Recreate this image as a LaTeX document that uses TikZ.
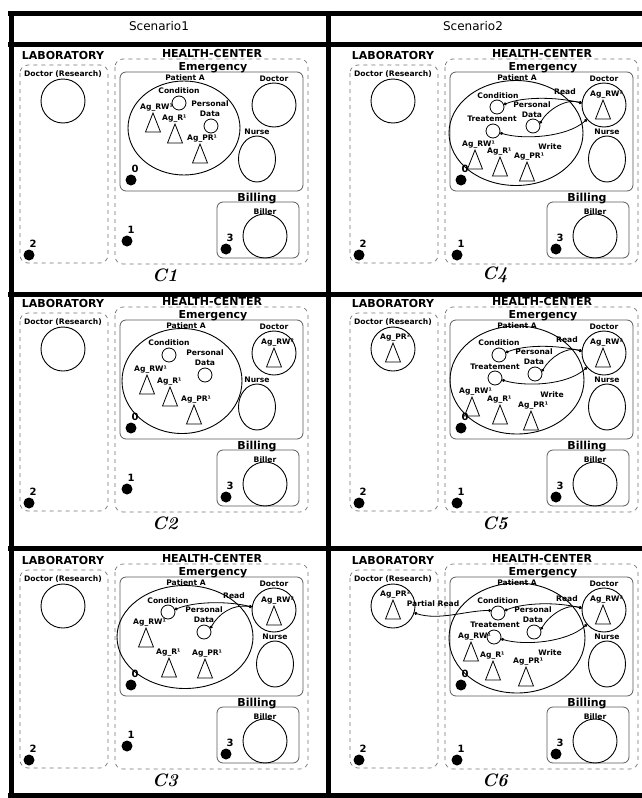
\documentclass[tikz,border=0pt]{standalone}
\usepackage{fontspec}
\usepackage{tikz}
\usetikzlibrary{shapes.geometric,arrows.meta,calc,positioning}
\newfontfamily\dvs{DejaVu Sans}

% one access scene: laboratory + health center
\newcommand{\ward}[4]{%
  \node[area, anchor=base] (#1lab) at (63,59) {LABORATORY};
  \draw[zone] (20,65) rectangle (108,263);
  \node[tag] (#1drt) at (63,74) {Doctor (Research)};
  \node[room] (#1dr) at (63,101) {};
  \node[area, anchor=base] (#1hc) at (212,57.5) {HEALTH-CENTER};
  \draw[zone] (115,59) rectangle (308,264);
  \draw[wardbox] (120,72) rectangle (303,191);
  \node[area, anchor=base] (#1em) at (213,70.5) {Emergency};
  \node[tag] (#1doct) at (274,79) {Doctor};
  \node[room] (#1doc) at (274,105) {};
  \node[tag] (#1nurt) at (#3,132) {Nurse};
  \node[nursebox] (#1nur) at (#3,159) {};
  \draw[wardbox] (217,202) rectangle (299,258);
  \node[area, anchor=base] (#1bil) at (257,201) {Billing};
  \node[tag] (#1bilrt) at (265,212) {Biller};
  \node[room] (#1bilr) at (265,236) {};
  \node[site] (#1p0) at (131,180) {};
  \node[num] (#1n0) at ($(#1p0)+(4,-11)$) {0};
  \node[site] (#1p1) at (127,#4) {};
  \node[num] (#1n1) at ($(#1p1)+(4,-11)$) {1};
  \node[site] (#1p2) at (29,255) {};
  \node[num] (#1n2) at ($(#1p2)+(4,-11)$) {2};
  \node[site] (#1p3) at (226,249) {};
  \node[num] (#1n3) at ($(#1p3)+(4,-11)$) {3};
  \node[figlabel] (#1cap) at (165,275) {#2};
}
% agent triangle with its label
\newcommand{\agent}[3]{%
  \coordinate (#1) at #2;
  \draw[cone] (#1) -- ++(-7.5,19) -- ++(15,0) -- cycle;
  \node[tag, anchor=south west] (#1t) at ($(#1)+(-13,-2)$) {#3};
}

\begin{document}
\begin{tikzpicture}[x=1pt, y=-1pt,
    panelline/.style={line width=5pt},
    head/.style={font=\dvs\fontsize{12}{13}\selectfont, inner sep=0pt},
    area/.style={font=\dvs\bfseries\fontsize{11}{12}\selectfont, inner sep=0pt},
    tag/.style={font=\dvs\bfseries\fontsize{7.6}{10}\selectfont, inner sep=0pt},
    num/.style={font=\dvs\bfseries\fontsize{10}{11}\selectfont, inner sep=0pt},
    figlabel/.style={font=\bfseries\itshape\fontsize{18}{20}\selectfont, inner sep=0pt},
    zone/.style={draw=black!55, dash pattern=on 4pt off 4pt, rounded corners=8pt, line width=0.7pt},
    wardbox/.style={draw=black!65, rounded corners=6pt, line width=0.8pt},
    room/.style={circle, draw, line width=0.9pt, minimum size=44, inner sep=0pt},
    nursebox/.style={ellipse, draw, line width=0.9pt, minimum width=37, minimum height=46, inner sep=0pt},
    patient/.style={ellipse, draw, line width=0.9pt, inner sep=0pt},
    spot/.style={circle, draw, line width=0.8pt, minimum size=14, inner sep=0pt},
    site/.style={circle, fill, minimum size=11, inner sep=0pt},
    cone/.style={line width=0.8pt, line join=miter},
    link/.style={{Circle[length=3pt]}-{Circle[length=3pt]}, line width=0.8pt}
]
    \useasboundingbox (0,0) rectangle (642,798);

    % frame
    \draw[panelline] (8,13) -- (642,13);
    \draw[panelline] (8,44.5) -- (642,44.5);
    \draw[panelline] (8,294) -- (642,294);
    \draw[panelline] (8,548) -- (642,548);
    \draw[panelline] (8,795.5) -- (642,795.5);
    \draw[panelline] (11,10.5) -- (11,798);
    \draw[panelline] (328,10.5) -- (328,798);
    \node[head, anchor=base] (s1) at (159,30.5) {Scenario1};
    \node[head, anchor=base] (s2) at (473,30.5) {Scenario2};

    % C1
    \begin{scope}[shift={(0,0)}]
        \ward{c1}{C1}{257}{241}
        \node[patient, minimum width=112, minimum height=94] (c1pat) at (184,128) {};
        \node[tag, anchor=base] (c1patt) at (185,80.5) {Patient A};
        \node[tag] (c1condt) at (179,91) {Condition};
        \node[spot] (c1cond) at (179,103) {};
        \node[tag, align=center] (c1datat) at (210,109) {Personal\\Data};
        \node[spot] (c1data) at (211,126) {};
        \agent{c1rw}{(153,113)}{Ag\_RW¹}
        \agent{c1r}{(175,124)}{Ag\_R¹}
        \agent{c1pr}{(200,144)}{Ag\_PR¹}
    \end{scope}

    % C2
    \begin{scope}[shift={(0,248)}]
        \ward{c2}{C2}{257}{241}
        \node[patient, minimum width=120, minimum height=105] (c2pat) at (182,133) {};
        \node[tag, anchor=base] (c2patt) at (186,80.5) {Patient A};
        \node[tag] (c2condt) at (169,95) {Condition};
        \node[spot] (c2cond) at (169,107) {};
        \node[tag, align=center] (c2datat) at (205,110) {Personal\\Data};
        \node[spot] (c2data) at (205,127) {};
        \agent{c2rw}{(147,127)}{Ag\_RW¹}
        \agent{c2r}{(170,139)}{Ag\_R¹}
        \agent{c2pr}{(194,157)}{Ag\_PR¹}
        \agent{c2rw2}{(274,100)}{Ag\_RW²}
    \end{scope}

    % C3
    \begin{scope}[shift={(0,505)}]
        \ward{c3}{C3}{275}{241}
        \node[patient, minimum width=136, minimum height=103] (c3pat) at (185,132) {};
        \node[tag, anchor=base] (c3patt) at (186,80.5) {Patient A};
        \node[tag] (c3condt) at (168,96) {Condition};
        \node[spot] (c3cond) at (168,107) {};
        \node[tag, align=center] (c3datat) at (204,110) {Personal\\Data};
        \node[spot] (c3data) at (204,127) {};
        \agent{c3rw}{(146,123)}{Ag\_RW¹}
        \agent{c3r}{(169,153)}{Ag\_R¹}
        \agent{c3pr}{(205,154)}{Ag\_PR¹}
        \agent{c3rw2}{(274,101)}{Ag\_RW²}
        \draw[link] (c3cond.20) .. controls +(20,-8) and +(-25,-6) .. (c3doc.172);
        \draw[link] (c3data.30) .. controls +(8,-14) and +(-20,-3) .. (c3doc.172);
        \node[tag] (c3read) at (234,91) {Read};
    \end{scope}

    % C4
    \begin{scope}[shift={(330,0)}]
        \ward{c4}{C4}{277}{255}
        \node[patient, minimum width=134, minimum height=105] (c4pat) at (186,133) {};
        \node[tag, anchor=base] (c4patt) at (187,80.5) {Patient A};
        \node[tag] (c4condt) at (168,96) {Condition};
        \node[spot] (c4cond) at (167,107) {};
        \node[tag, align=center] (c4datat) at (202,110) {Personal\\Data};
        \node[spot] (c4data) at (203,126) {};
        \node[tag] (c4treatt) at (162,119) {Treatement};
        \node[spot] (c4treat) at (163,131) {};
        \agent{c4rw}{(145,150)}{Ag\_RW¹}
        \agent{c4r}{(170,157)}{Ag\_R¹}
        \agent{c4pr}{(197,162)}{Ag\_PR¹}
        \agent{c4rw2}{(273,100)}{Ag\_RW²}
        \draw[link] (c4cond.20) .. controls +(20,-8) and +(-25,-6) .. (c4doc.175);
        \draw[link] (c4data.20) .. controls +(8,-14) and +(-15,-5) .. (c4doc.175);
        \draw[link] (c4doc.220) .. controls +(-20,18) and +(23,7) .. (c4treat.-15);
        \node[tag] (c4read) at (235,92) {Read};
        \node[tag] (c4write) at (220,147) {Write};
    \end{scope}

    % C5
    \begin{scope}[shift={(330,248)}]
        \ward{c5}{C5}{277}{255}
        \agent{c5pr2}{(63,95)}{Ag\_PR²}
        \node[patient, minimum width=134, minimum height=108] (c5pat) at (187,132) {};
        \node[tag, anchor=base] (c5patt) at (187,80.5) {Patient A};
        \node[tag] (c5condt) at (169,95) {Condition};
        \node[spot] (c5cond) at (169,107) {};
        \node[tag, align=center] (c5datat) at (204,109) {Personal\\Data};
        \node[spot] (c5data) at (205,126) {};
        \node[tag] (c5treatt) at (165,119) {Treatement};
        \node[spot] (c5treat) at (165,130) {};
        \agent{c5rw}{(142,149)}{Ag\_RW¹}
        \agent{c5r}{(170,157)}{Ag\_R¹}
        \agent{c5pr}{(201,163)}{Ag\_PR¹}
        \agent{c5rw2}{(273,100)}{Ag\_RW²}
        \draw[link] (c5cond.20) .. controls +(20,-8) and +(-25,-6) .. (c5doc.175);
        \draw[link] (c5data.20) .. controls +(8,-14) and +(-15,-5) .. (c5doc.175);
        \draw[link] (c5doc.220) .. controls +(-20,18) and +(23,7) .. (c5treat.-15);
        \node[tag] (c5read) at (237,92) {Read};
        \node[tag] (c5write) at (222,147) {Write};
    \end{scope}

    % C6
    \begin{scope}[shift={(330,505)}]
        \ward{c6}{C6}{277}{255}
        \agent{c6pr2}{(63,95)}{Ag\_PR²}
        \node[patient, minimum width=136, minimum height=110] (c6pat) at (187,133) {};
        \node[tag, anchor=base] (c6patt) at (187,80.5) {Patient A};
        \node[tag] (c6condt) at (168,96) {Condition};
        \node[spot] (c6cond) at (168,108) {};
        \node[tag, align=center] (c6datat) at (203,110) {Personal\\Data};
        \node[spot] (c6data) at (204,127) {};
        \node[tag] (c6treatt) at (165,120) {Treatement};
        \node[spot] (c6treat) at (164,132) {};
        \agent{c6rw}{(141,137)}{Ag\_RW¹}
        \agent{c6r}{(163,156)}{Ag\_R¹}
        \agent{c6pr}{(196,162)}{Ag\_PR¹}
        \agent{c6rw2}{(273,100)}{Ag\_RW²}
        \draw[link] (c6dr.-18) .. controls +(25,8) and +(-25,0) .. (c6cond.160);
        \draw[link] (c6cond.20) .. controls +(20,-8) and +(-25,-6) .. (c6doc.175);
        \draw[link] (c6data.20) .. controls +(8,-14) and +(-15,-5) .. (c6doc.175);
        \draw[link] (c6doc.220) .. controls +(-20,18) and +(23,7) .. (c6treat.-15);
        \node[tag] (c6pread) at (103,99) {Partial Read};
        \node[tag] (c6read) at (237,94) {Read};
        \node[tag] (c6write) at (220,148) {Write};
    \end{scope}
\end{tikzpicture}
\end{document}
